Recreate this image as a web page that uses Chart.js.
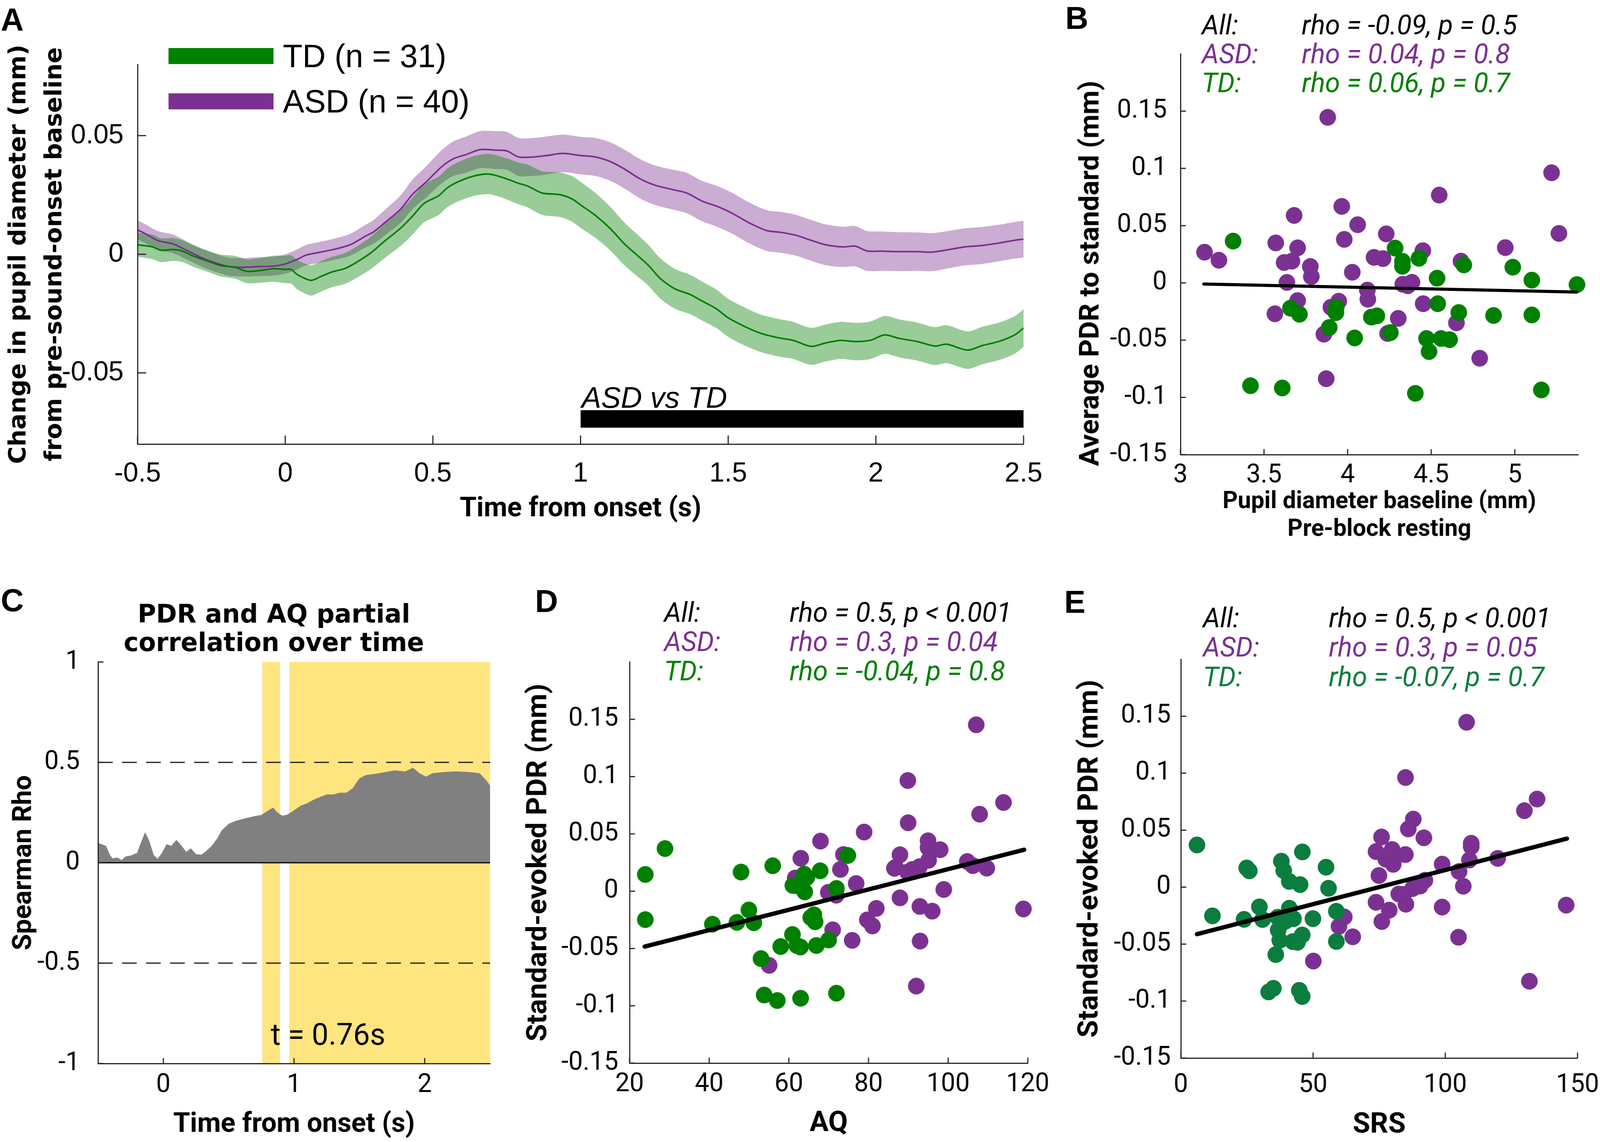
<!DOCTYPE html>
<html><head><meta charset="utf-8">
<script src="https://cdn.jsdelivr.net/npm/chart.js@4.4.1/dist/chart.umd.min.js"></script>
<style>
html,body{margin:0;padding:0;background:#fff;overflow:hidden;}
#wrap{position:relative;width:100vw;height:100vh;overflow:hidden;background:#fff;}
#page{position:absolute;left:0;top:0;width:4130px;height:2924px;overflow:hidden;background:#fff;transform-origin:0 0;}
#page canvas{position:absolute;}
.t{position:absolute;white-space:nowrap;line-height:1;transform:translateY(-50%);}
.v{position:absolute;white-space:nowrap;text-align:center;transform:translate(-50%,-50%) rotate(-90deg);}
.sw{position:absolute;}
</style></head>
<body><div id="wrap"><div id="page">
<canvas id="cA" width="2720" height="1300" style="left:0px;top:100px;width:2720px;height:1300px"></canvas>
<canvas id="cB" width="1430" height="1300" style="left:2700px;top:100px;width:1430px;height:1300px"></canvas>
<canvas id="cC" width="1414" height="1474" style="left:0px;top:1450px;width:1414px;height:1474px"></canvas>
<canvas id="cD" width="1420" height="1474" style="left:1330px;top:1450px;width:1420px;height:1474px"></canvas>
<canvas id="cE" width="1390" height="1474" style="left:2740px;top:1450px;width:1390px;height:1474px"></canvas>
</div></div>
<script>
// ---------------- DATA ----------------
// Panel A : time course of pupil change (mean and SEM)
const A_TD_T = [-0.5,-0.45,-0.42,-0.38,-0.35,-0.31,-0.26,-0.22,-0.17,-0.13,-0.09,-0.04,0.0,0.02,0.04,0.07,0.09,0.12,0.16,0.2,0.24,0.29,0.34,0.39,0.43,0.47,0.52,0.55,0.59,0.64,0.69,0.74,0.79,0.82,0.87,0.93,0.97,1.0,1.05,1.1,1.15,1.2,1.23,1.27,1.32,1.37,1.41,1.46,1.5,1.56,1.61,1.67,1.72,1.78,1.83,1.88,1.93,1.98,2.03,2.08,2.14,2.2,2.24,2.31,2.36,2.42,2.47,2.5];
const A_TD_MEAN = [0.0040,0.0031,0.0017,0.0020,0.0014,-0.0008,-0.0030,-0.0047,-0.0055,-0.0072,-0.0069,-0.0061,-0.0064,-0.0064,-0.0085,-0.0104,-0.0110,-0.0094,-0.0074,-0.0061,-0.0035,0.0006,0.0059,0.0109,0.0159,0.0214,0.0247,0.0281,0.0308,0.0330,0.0338,0.0322,0.0299,0.0288,0.0258,0.0251,0.0234,0.0208,0.0164,0.0109,0.0042,-0.0013,-0.0047,-0.0102,-0.0146,-0.0169,-0.0196,-0.0230,-0.0268,-0.0307,-0.0333,-0.0352,-0.0363,-0.0388,-0.0374,-0.0363,-0.0368,-0.0363,-0.0340,-0.0355,-0.0368,-0.0387,-0.0379,-0.0404,-0.0385,-0.0366,-0.0340,-0.0311];
const A_TD_SEM = [0.0050,0.0052,0.0050,0.0048,0.0046,0.0045,0.0045,0.0046,0.0048,0.0050,0.0052,0.0055,0.0058,0.0060,0.0062,0.0063,0.0064,0.0064,0.0064,0.0065,0.0066,0.0068,0.0072,0.0075,0.0078,0.0080,0.0081,0.0082,0.0083,0.0084,0.0085,0.0086,0.0088,0.0090,0.0092,0.0094,0.0096,0.0097,0.0095,0.0092,0.0090,0.0088,0.0086,0.0085,0.0084,0.0083,0.0082,0.0081,0.0080,0.0080,0.0079,0.0079,0.0078,0.0078,0.0078,0.0078,0.0079,0.0079,0.0080,0.0080,0.0080,0.0080,0.0080,0.0079,0.0079,0.0079,0.0079,0.0079];
const A_ASD_T = [-0.5,-0.47,-0.43,-0.38,-0.33,-0.28,-0.24,-0.19,-0.14,-0.09,-0.04,0.0,0.04,0.07,0.12,0.17,0.22,0.27,0.3,0.34,0.39,0.43,0.48,0.53,0.57,0.61,0.66,0.71,0.75,0.79,0.84,0.89,0.94,1.0,1.05,1.1,1.15,1.2,1.25,1.31,1.36,1.41,1.46,1.51,1.57,1.63,1.68,1.73,1.78,1.83,1.89,1.93,1.97,2.02,2.08,2.14,2.19,2.24,2.3,2.36,2.42,2.47,2.5];
const A_ASD_MEAN = [0.0103,0.0084,0.0057,0.0044,0.0014,-0.0016,-0.0035,-0.0052,-0.0055,-0.0052,-0.0050,-0.0041,-0.0022,-0.0004,0.0009,0.0022,0.0040,0.0075,0.0095,0.0136,0.0189,0.0251,0.0308,0.0369,0.0403,0.0419,0.0441,0.0439,0.0436,0.0410,0.0410,0.0417,0.0425,0.0416,0.0410,0.0391,0.0358,0.0319,0.0292,0.0273,0.0258,0.0225,0.0203,0.0175,0.0133,0.0100,0.0092,0.0080,0.0059,0.0040,0.0031,0.0034,0.0014,0.0013,0.0011,0.0011,0.0009,0.0018,0.0031,0.0037,0.0048,0.0059,0.0064];
const A_ASD_SEM = [0.0040,0.0040,0.0040,0.0039,0.0038,0.0038,0.0038,0.0038,0.0039,0.0040,0.0040,0.0041,0.0042,0.0043,0.0044,0.0045,0.0046,0.0048,0.0050,0.0054,0.0058,0.0062,0.0066,0.0070,0.0073,0.0076,0.0078,0.0080,0.0080,0.0080,0.0080,0.0080,0.0079,0.0079,0.0080,0.0081,0.0082,0.0083,0.0083,0.0084,0.0085,0.0085,0.0086,0.0086,0.0086,0.0086,0.0086,0.0086,0.0086,0.0086,0.0085,0.0085,0.0084,0.0083,0.0082,0.0081,0.0080,0.0079,0.0078,0.0078,0.0077,0.0077,0.0077];
const A_SIG_X = [1.0, 2.5];
const A_SIG_Y = [-0.0731, -0.0657];
const A_X_TICKS = [-0.5,0,0.5,1,1.5,2,2.5];
const A_X_LABELS = ['-0.5','0','0.5','1','1.5','2','2.5'];
const A_Y_TICKS = [-0.05,0,0.05];
const A_Y_LABELS = ['-0.05','0','0.05'];

// Panel B : baseline vs PDR
const B_ASD_X = [3.144,3.23,3.881,3.57,3.68,3.62,3.667,3.701,3.637,3.777,3.783,3.701,3.565,3.965,3.98,4.06,4.028,3.90,3.947,3.858,3.872,4.118,4.121,4.158,4.212,4.231,4.239,4.303,4.33,4.385,4.45,4.452,4.548,4.678,4.651,4.79,4.943,5.22,5.264,4.36];
const B_ASD_Y = [0.0268,0.0198,0.1446,0.0349,0.0589,0.0178,0.0190,0.0306,0.0004,0.0143,0.0055,-0.0155,-0.0270,0.0668,0.0380,0.0508,0.0093,-0.0213,-0.0160,-0.0448,-0.0837,-0.0063,-0.0143,0.0223,0.0212,0.0428,-0.0442,-0.0310,-0.0012,0.0005,0.0281,-0.0182,0.0767,0.0190,-0.0349,-0.0658,0.0308,0.0962,0.0432,-0.0025];
const B_TD_X = [3.315,3.419,3.609,3.658,3.712,3.932,3.93,3.89,4.042,4.142,4.175,4.256,4.284,4.328,4.328,4.427,4.405,4.535,4.539,4.472,4.487,4.559,4.61,4.665,4.695,4.873,4.988,5.102,5.102,5.159,5.372];
const B_TD_Y = [0.0365,-0.0898,-0.0918,-0.0221,-0.0274,-0.0214,-0.0260,-0.0390,-0.0481,-0.0299,-0.0288,-0.0434,0.0304,0.0189,0.0145,0.0215,-0.0965,0.0041,-0.0182,-0.0486,-0.0600,-0.0486,-0.0496,-0.0259,0.0157,-0.0285,0.0137,0.0024,-0.0280,-0.0935,-0.0015];
const B_FIT_X = [3.14, 5.37];
const B_FIT_Y = [-0.0010, -0.0080];
const B_X_TICKS = [3,3.5,4,4.5,5];
const B_X_LABELS = ['3','3.5','4','4.5','5'];
const PDR_Y_TICKS = [-0.15,-0.1,-0.05,0,0.05,0.1,0.15];
const PDR_Y_LABELS = ['-0.15','-0.1','-0.05','0','0.05','0.1','0.15'];

// Panel C : partial correlation over time
const C_T = [-0.5,-0.475,-0.44,-0.41,-0.39,-0.35,-0.32,-0.29,-0.25,-0.2,-0.175,-0.14,-0.11,-0.075,-0.045,-0.01,0.025,0.06,0.1,0.14,0.175,0.21,0.25,0.29,0.32,0.37,0.41,0.45,0.5,0.55,0.6,0.65,0.71,0.75,0.79,0.84,0.87,0.91,0.95,1.0,1.05,1.1,1.15,1.2,1.25,1.3,1.35,1.4,1.45,1.5,1.55,1.62,1.7,1.77,1.85,1.91,1.96,2.01,2.06,2.15,2.24,2.34,2.42,2.47,2.5];
const C_RHO = [0.097,0.092,0.083,0.039,0.021,0.025,0.012,0.030,0.035,0.048,0.092,0.150,0.110,0.039,0.018,0.048,0.092,0.083,0.113,0.083,0.053,0.071,0.042,0.039,0.053,0.083,0.118,0.163,0.193,0.207,0.216,0.224,0.233,0.237,0.254,0.274,0.251,0.233,0.239,0.260,0.283,0.295,0.313,0.327,0.339,0.339,0.348,0.348,0.371,0.419,0.436,0.442,0.451,0.459,0.454,0.472,0.445,0.428,0.445,0.451,0.454,0.451,0.445,0.410,0.383];
const C_SIG_START = [0.756, 0.963];
const C_SIG_END = [0.893, 2.5];
const C_THRESH = [0.5, -0.5];
const C_X_TICKS = [0,1,2];
const C_X_LABELS = ['0','1','2'];
const C_Y_TICKS = [-1,-0.5,0,0.5,1];
const C_Y_LABELS = ['-1','-0.5','0','0.5','1'];

// Panel D : AQ vs PDR
const D_ASD_X = [107.05,89.87,113.9,107.9,89.95,78.9,67.95,63.0,73.7,72.95,61.6,76.9,71.9,87.9,86.8,89.8,92.8,94.95,94.95,98.0,95.1,104.8,106.2,109.7,98.9,87.9,81.97,92.9,96.0,79.7,81.0,71.0,75.9,92.95,55.05,92.0,118.9,69.9,86.5,91.0];
const D_ASD_Y = [0.1452,0.0966,0.0774,0.0672,0.0597,0.0516,0.0437,0.0287,0.0320,0.0190,0.0115,0.0067,-0.0035,0.0318,0.0208,0.0167,0.0214,0.0440,0.0380,0.0362,0.0270,0.0259,0.0223,0.0201,0.0015,-0.0058,-0.0150,-0.0133,-0.0174,-0.0250,-0.0303,-0.0337,-0.0429,-0.0435,-0.0647,-0.0828,-0.0155,-0.0010,0.0200,0.0190];
const D_TD_X = [23.96,23.96,28.9,40.8,46.96,48.0,49.96,51.2,53.0,53.8,57.1,55.95,57.95,60.9,61.8,62.0,62.9,62.95,63.85,64.0,66.3,66.6,66.9,67.87,70.0,71.95,71.95,74.8,65.5,61.0,64.5];
const D_TD_Y = [0.0146,-0.0248,0.0372,-0.0288,-0.0272,0.0167,-0.0164,-0.0275,-0.0588,-0.0906,-0.0954,0.0222,-0.0483,-0.0378,0.0048,-0.0474,-0.0487,-0.0934,0.0148,-0.0006,-0.0206,-0.0267,-0.0474,0.0178,-0.0426,0.0024,-0.0890,0.0312,-0.0230,0.0050,0.0120];
const D_FIT_X = [23.8, 119.1];
const D_FIT_Y = [-0.0483, 0.0362];
const D_X_TICKS = [20,40,60,80,100,120];
const D_X_LABELS = ['20','40','60','80','100','120'];

// Panel E : SRS vs PDR
const E_ASD_X = [108.05,84.95,134.7,129.9,87.9,86.0,91.9,75.9,73.8,79.9,84.9,80.3,77.5,74.9,98.8,109.8,109.8,109.1,119.8,105.2,106.8,92.3,87.6,84.2,85.1,73.8,78.8,76.0,98.8,61.8,59.8,65.0,105.0,50.1,131.8,145.7,89.7,82.4,81.0,90.5];
const E_ASD_Y = [0.1447,0.0962,0.0773,0.0671,0.0597,0.0511,0.0433,0.0440,0.0312,0.0330,0.0286,0.0200,0.0245,0.0102,0.0202,0.0385,0.0355,0.0238,0.0252,0.0137,0.0008,0.0060,-0.0013,-0.0065,-0.0150,-0.0133,-0.0202,-0.0302,-0.0175,-0.0262,-0.0344,-0.0436,-0.0440,-0.0649,-0.0826,-0.0158,0.0025,-0.0060,0.0260,0.0010];
const E_TD_X = [6.1,11.95,24.9,25.9,23.9,29.7,30.9,38.0,38.9,41.0,45.1,45.95,54.9,55.85,58.8,58.8,49.95,42.6,41.0,36.6,36.8,37.4,42.3,44.1,45.9,35.9,33.2,35.0,44.8,45.9,39.5];
const E_TD_Y = [0.0370,-0.0252,0.0168,0.0143,-0.0283,-0.0173,-0.0284,0.0228,0.0145,0.0050,0.0022,0.0309,0.0175,-0.0010,-0.0212,-0.0477,-0.0277,-0.0277,-0.0185,-0.0265,-0.0377,-0.0466,-0.0478,-0.0484,-0.0420,-0.0592,-0.0920,-0.0888,-0.0906,-0.0960,-0.0300];
const E_FIT_X = [6.1, 146.0];
const E_FIT_Y = [-0.0413, 0.0426];
const E_X_TICKS = [0,50,100,150];
const E_X_LABELS = ['0','50','100','150'];

// Text annotations
const STATS_B = [['All:','rho = -0.09, p = 0.5'],['ASD:','rho = 0.04, p = 0.8'],['TD:','rho = 0.06, p = 0.7']];
const STATS_D = [['All:','rho = 0.5, p < 0.001'],['ASD:','rho = 0.3, p = 0.04'],['TD:','rho = -0.04, p = 0.8']];
const STATS_E = [['All:','rho = 0.5, p < 0.001'],['ASD:','rho = 0.3, p = 0.05'],['TD:','rho = -0.07, p = 0.7']];

// ---------------- STYLE ----------------
const AXIS = '#262626';
const PURPLE = '#7B3192';
const GREEN = '#008000';
const GREEN_E = '#0B7D3E';
const PURPLE_LINE = '#7B2C91';
const GREEN_LINE = '#007A00';
const PURPLE_BAND = 'rgba(126,47,142,0.4)';
const GREEN_BAND = 'rgba(0,128,0,0.4)';
const YELLOW = '#FFE57F';

Chart.defaults.font.family = 'Roboto';
Chart.defaults.color = '#000';

const inwardTicks = {
  id: 'inwardTicks',
  afterDraw(chart, args, opts) {
    const len = opts.len || 14;
    const {ctx, chartArea} = chart;
    ctx.save();
    ctx.strokeStyle = AXIS; ctx.lineWidth = 3;
    ['x','y'].forEach(id => {
      const s = chart.scales[id];
      s.ticks.forEach(t => {
        const p = s.getPixelForValue(t.value);
        ctx.beginPath();
        if (id === 'x') { ctx.moveTo(p, chartArea.bottom); ctx.lineTo(p, chartArea.bottom - len); }
        else { ctx.moveTo(chartArea.left, p); ctx.lineTo(chartArea.left + len, p); }
        ctx.stroke();
      });
    });
    ctx.restore();
  }
};
Chart.register(inwardTicks);

function xy(xs, ys) { return xs.map((x, i) => ({x: x, y: ys[i]})); }

function axis(o) {
  return {
    type: 'linear', min: o.min, max: o.max,
    grid: {display: false, drawTicks: false},
    border: {display: true, color: AXIS, width: 3, z: 1},
    afterBuildTicks: s => { s.ticks = o.ticks.map(v => ({value: v})); },
    afterFit: s => {
      if (o.isX) { s.height = o.size; s.paddingLeft = 0; s.paddingRight = o.padRight || 0; }
      else { s.width = o.size; s.paddingTop = 0; s.paddingBottom = 0; }
    },
    ticks: {z: 1, autoSkip: false, maxRotation: 0, minRotation: 0, padding: o.pad, color: '#000',
            font: o.font, callback: (v, i) => o.labels[i]},
    title: o.title || {display: false}
  };
}

const BASE = {responsive: false, animation: false, devicePixelRatio: 1, events: []};

// ---------------- PANEL A ----------------
const tdUp = A_TD_MEAN.map((m, i) => m + A_TD_SEM[i]);
const tdLo = A_TD_MEAN.map((m, i) => m - A_TD_SEM[i]);
const asUp = A_ASD_MEAN.map((m, i) => m + A_ASD_SEM[i]);
const asLo = A_ASD_MEAN.map((m, i) => m - A_ASD_SEM[i]);
const lineDs = (data, color, width, extra) => Object.assign({data, borderColor: color, borderWidth: width, pointRadius: 0, tension: 0.3, fill: false}, extra || {});
const fontA = {family: 'Liberation Sans', size: 70};
new Chart(document.getElementById('cA'), {
  type: 'line',
  data: {datasets: [
    lineDs(xy(A_TD_T, A_TD_MEAN), GREEN_LINE, 4, {label: 'TD (n = 31)', order: 1}),
    lineDs(xy(A_ASD_T, A_ASD_MEAN), PURPLE_LINE, 4, {label: 'ASD (n = 40)', order: 2}),
    lineDs(xy(A_TD_T, tdUp), 'rgba(0,0,0,0)', 0, {fill: '+1', backgroundColor: GREEN_BAND, order: 3}),
    lineDs(xy(A_TD_T, tdLo), 'rgba(0,0,0,0)', 0, {order: 3}),
    lineDs(xy(A_ASD_T, asUp), 'rgba(0,0,0,0)', 0, {fill: '+1', backgroundColor: PURPLE_BAND, order: 4}),
    lineDs(xy(A_ASD_T, asLo), 'rgba(0,0,0,0)', 0, {order: 4}),
    lineDs(xy(A_SIG_X, [A_SIG_Y[1], A_SIG_Y[1]]), 'rgba(0,0,0,0)', 0, {fill: '+1', backgroundColor: '#000', tension: 0, order: 5}),
    lineDs(xy(A_SIG_X, [A_SIG_Y[0], A_SIG_Y[0]]), 'rgba(0,0,0,0)', 0, {tension: 0, order: 5})
  ]},
  options: Object.assign({}, BASE, {
    layout: {padding: {left: 0, top: 65, right: 78, bottom: 0}},
    plugins: {legend: {display: false}, tooltip: {enabled: false}, inwardTicks: {len: 22}},
    scales: {
      x: axis({min: -0.5, max: 2.5, ticks: A_X_TICKS, labels: A_X_LABELS, font: fontA, pad: 35, size: 263, isX: true,
        title: {display: true, text: 'Time from onset (s)', color: '#000', font: {family: 'Roboto', weight: 'bold', size: 70, lineHeight: '80px'}, padding: {top: 0, bottom: 56}}}),
      y: axis({min: -0.08, max: 0.08, ticks: A_Y_TICKS, labels: A_Y_LABELS, font: fontA, pad: 36, size: 355})
    }
  })
});

// ---------------- scatter helper ----------------
function scatterChart(id, cfg) {
  const tickFont = {family: 'Roboto', size: 66};
  const titleFont = (sz, lh) => ({family: 'Roboto', weight: 'bold', size: sz, lineHeight: lh});
  new Chart(document.getElementById(id), {
    type: 'scatter',
    data: {datasets: [
      {data: xy(cfg.fitX, cfg.fitY), showLine: true, borderColor: '#000', borderWidth: cfg.fitW, pointRadius: 0, borderCapStyle: 'round', order: 1, clip: false},
      {label: 'TD', data: xy(cfg.tdX, cfg.tdY), backgroundColor: cfg.green, borderColor: cfg.green, borderWidth: 1, pointRadius: 21, order: 2, clip: false},
      {label: 'ASD', data: xy(cfg.asdX, cfg.asdY), backgroundColor: PURPLE, borderColor: PURPLE, borderWidth: 1, pointRadius: 21, order: 3, clip: false}
    ]},
    options: Object.assign({}, BASE, {
      layout: {padding: {left: 0, top: cfg.top, right: cfg.right, bottom: 0}},
      plugins: {legend: {display: false}, tooltip: {enabled: false}, inwardTicks: {len: 14}},
      scales: {
        x: axis({min: cfg.xmin, max: cfg.xmax, ticks: cfg.xticks, labels: cfg.xlabels, font: tickFont, pad: cfg.xpad, size: cfg.hx, isX: true,
          title: {display: true, text: cfg.xtitle, color: '#000', font: titleFont(cfg.xtsize, cfg.xtlh), padding: {top: 0, bottom: cfg.xtpb}}}),
        y: axis({min: -0.15, max: 0.2, ticks: PDR_Y_TICKS, labels: PDR_Y_LABELS, font: tickFont, pad: cfg.ypad, size: cfg.wy,
          title: cfg.ytitle ? {display: true, text: cfg.ytitle, color: '#000', font: titleFont(73, '80px'), padding: {top: cfg.ytpt, bottom: 0}} : {display: false}})
      }
    })
  });
}

// ---------------- PANEL B ----------------
scatterChart('cB', {asdX: B_ASD_X, asdY: B_ASD_Y, tdX: B_TD_X, tdY: B_TD_Y, fitX: B_FIT_X, fitY: B_FIT_Y, fitW: 8, green: GREEN,
  top: 38, right: 56, xmin: 3, xmax: 5.38, xticks: B_X_TICKS, xlabels: B_X_LABELS, xpad: 15, hx: 236,
  xtitle: ['Pupil diameter baseline (mm)', 'Pre-block resting'], xtsize: 61, xtlh: '71px', xtpb: 8,
  ypad: 35, wy: 347, ytitle: null});

// ---------------- PANEL D ----------------
scatterChart('cD', {asdX: D_ASD_X, asdY: D_ASD_Y, tdX: D_TD_X, tdY: D_TD_Y, fitX: D_FIT_X, fitY: D_FIT_Y, fitW: 11, green: GREEN,
  top: 245, right: 97, xmin: 20, xmax: 120, xticks: D_X_TICKS, xlabels: D_X_LABELS, xpad: 16, hx: 202,
  xtitle: 'AQ', xtsize: 73, xtlh: '80px', xtpb: 6,
  ypad: 29, wy: 295, ytitle: 'Standard-evoked PDR (mm)', ytpt: 22});

// ---------------- PANEL E ----------------
scatterChart('cE', {asdX: E_ASD_X, asdY: E_ASD_Y, tdX: E_TD_X, tdY: E_TD_Y, fitX: E_FIT_X, fitY: E_FIT_Y, fitW: 11, green: GREEN_E,
  top: 238, right: 58, xmin: 0, xmax: 150, xticks: E_X_TICKS, xlabels: E_X_LABELS, xpad: 31, hx: 215,
  xtitle: 'SRS', xtsize: 73, xtlh: '80px', xtpb: 2,
  ypad: 26, wy: 308, ytitle: 'Standard-evoked PDR (mm)', ytpt: 35});

// ---------------- PANEL C ----------------
const cDatasets = [
  {data: xy([-0.5, 2.5], [0, 0]), borderColor: '#000', borderWidth: 3, pointRadius: 0, fill: false, order: 1},
  {data: xy([-0.5, 2.5], [C_THRESH[0], C_THRESH[0]]), borderColor: '#1a1a1a', borderWidth: 3, borderDash: [38, 24], pointRadius: 0, fill: false, order: 2},
  {data: xy([-0.5, 2.5], [C_THRESH[1], C_THRESH[1]]), borderColor: '#1a1a1a', borderWidth: 3, borderDash: [38, 24], pointRadius: 0, fill: false, order: 2},
  {data: xy(C_T, C_RHO), borderColor: '#808080', borderWidth: 1, backgroundColor: '#808080', pointRadius: 0, fill: 'origin', tension: 0, order: 3}
];
C_SIG_START.forEach((s, i) => {
  cDatasets.push({data: xy([s, C_SIG_END[i]], [1, 1]), borderColor: 'rgba(0,0,0,0)', borderWidth: 0, backgroundColor: YELLOW, pointRadius: 0, fill: 'start', order: 5});
});
new Chart(document.getElementById('cC'), {
  type: 'line',
  data: {datasets: cDatasets},
  options: Object.assign({}, BASE, {
    layout: {padding: {left: 0, top: 0, right: 0, bottom: 0}},
    plugins: {legend: {display: false}, tooltip: {enabled: false}, inwardTicks: {len: 14},
      title: {display: true, text: ['PDR and AQ partial', 'correlation over time'], color: '#000',
        font: {family: 'DejaVu Sans', weight: 'bold', size: 65, lineHeight: '73px'}, padding: {top: 90.5, bottom: 8.5}}},
    scales: {
      x: axis({min: -0.5, max: 2.5, ticks: C_X_TICKS, labels: C_X_LABELS, font: {family: 'Roboto', size: 66}, pad: 17, size: 201, isX: true, padRight: 149,
        title: {display: true, text: 'Time from onset (s)', color: '#000', font: {family: 'Roboto', weight: 'bold', size: 70, lineHeight: '80px'}, padding: {top: 0, bottom: 4}}}),
      y: axis({min: -1, max: 1, ticks: C_Y_TICKS, labels: C_Y_LABELS, font: {family: 'Roboto', size: 66}, pad: 47, size: 253,
        title: {display: true, text: 'Spearman Rho', color: '#000', font: {family: 'Roboto', weight: 'bold', size: 68, lineHeight: '80px'}, padding: {top: 23, bottom: 0}}})
    }
  })
});

// ---------------- TEXT OVERLAYS ----------------
const page = document.getElementById('page');
function styleText(d, o) {
  d.style.fontFamily = o.family || 'Roboto';
  d.style.fontSize = (o.size || 66) + 'px';
  d.style.fontWeight = o.weight || 'normal';
  d.style.fontStyle = o.style || 'normal';
  d.style.color = o.color || '#000';
}
function addText(x, y, text, o) {
  const d = document.createElement('div');
  d.className = 't';
  d.textContent = text;
  d.style.left = x + 'px';
  d.style.top = y + 'px';
  styleText(d, o);
  d.style.lineHeight = '1';
  page.appendChild(d);
}
function addVText(cx, cy, lines, o) {
  const d = document.createElement('div');
  d.className = 'v';
  d.style.left = cx + 'px';
  d.style.top = cy + 'px';
  styleText(d, o);
  d.style.lineHeight = o.lh + 'px';
  lines.forEach((l, i) => {
    if (i) d.appendChild(document.createElement('br'));
    d.appendChild(document.createTextNode(l));
  });
  page.appendChild(d);
}
function addSwatch(x, y, w, h, color) {
  const d = document.createElement('div');
  d.className = 'sw';
  d.style.left = x + 'px'; d.style.top = y + 'px'; d.style.width = w + 'px'; d.style.height = h + 'px';
  d.style.background = color;
  page.appendChild(d);
}
// y-axis titles that extend beyond their axes
addVText(91, 651, ['Change in pupil diameter (mm)', 'from pre-sound-onset baseline'], {family: 'DejaVu Sans', weight: 'bold', size: 61, lh: 92});
addVText(2812, 700, ['Average PDR to standard (mm)'], {family: 'Roboto', weight: 'bold', size: 71, lh: 80});
// panel letters
const LET = {family: 'Liberation Sans', weight: 'bold', size: 82};
addText(2, 50, 'A', LET);
addText(2750, 46, 'B', LET);
addText(2, 1537, 'C', LET);
addText(1381, 1539, 'D', LET);
addText(2747, 1541, 'E', LET);
// legend A
addSwatch(435, 123, 271, 41, GREEN);
addSwatch(435, 239, 271, 41, PURPLE);
addText(730, 143, 'TD (n = 31)', {family: 'Liberation Sans', size: 83});
addText(730, 259, 'ASD (n = 40)', {family: 'Liberation Sans', size: 83});
addText(1501, 1018, 'ASD vs TD', {family: 'Liberation Sans', size: 76, style: 'italic'});
// C annotation
addText(699, 2649, 't = 0.76s', {family: 'Roboto', size: 77});
// stats
function stats(rows, x1, x2, ys, green) {
  const cols = ['#000', PURPLE, green];
  rows.forEach((r, i) => {
    addText(x1, ys[i], r[0], {family: 'Roboto', size: 70, style: 'italic', color: cols[i]});
    addText(x2, ys[i], r[1], {family: 'Roboto', size: 70, style: 'italic', color: cols[i]});
  });
}
stats(STATS_B, 3102, 3360, [64, 138, 212], GREEN);
stats(STATS_D, 1714, 2038, [1568, 1643, 1718], GREEN);
stats(STATS_E, 3105, 3430, [1582, 1657, 1733], GREEN_E);

// fit the 4130x2924 figure into the visible viewport (no-op when the viewport is full size)
(function fitViewport() {
  const vw = document.documentElement.clientWidth || window.innerWidth;
  const vh = document.documentElement.clientHeight || window.innerHeight;
  let sx = vw / 4130, sy = vh / 2924;
  if (!(sx > 0.8)) sx = 1;
  if (!(sy > 0.8)) sy = 1;
  sx = Math.min(1, sx); sy = Math.min(1, sy);
  if (sx < 1 || sy < 1) page.style.transform = 'scale(' + sx + ',' + sy + ')';
})();
</script></body></html>
